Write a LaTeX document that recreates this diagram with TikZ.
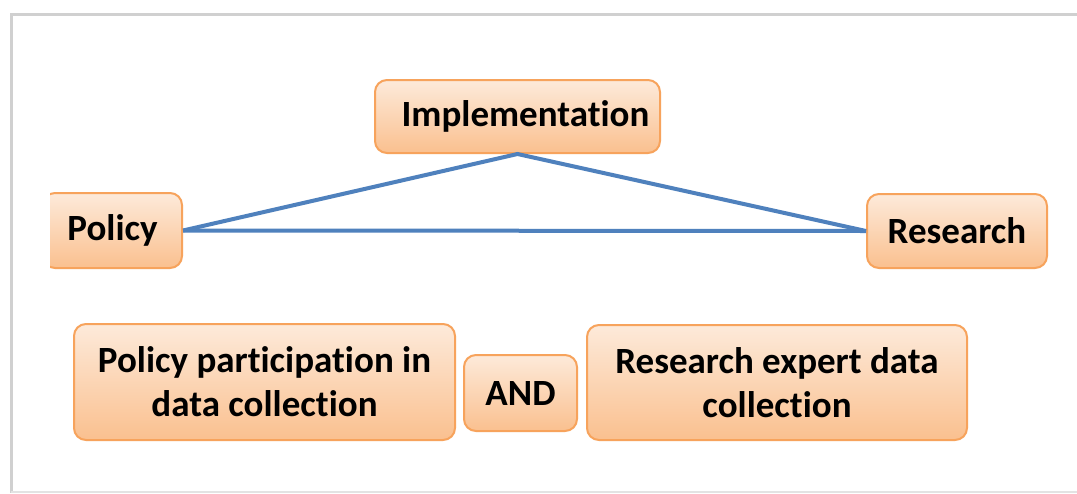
\documentclass[tikz,border=0pt]{standalone}
\usepackage{fontspec}
\setmainfont{Carlito}[Ligatures=NoCommon]
\usetikzlibrary{shadings}
\definecolor{boxtop}{HTML}{FDEADA}
\definecolor{boxbot}{HTML}{FAC08F}
\definecolor{boxline}{HTML}{F7A35C}
\definecolor{linkblue}{HTML}{4F81BD}
\definecolor{framegray}{HTML}{D0D0D0}
\tikzset{
  obox/.style={draw=boxline, line width=1pt, rounded corners=6pt,
    top color=boxtop, bottom color=boxbot, inner sep=0pt,
    align=center, font=\bfseries\fontsize{18.5}{22}\selectfont},
  link/.style={draw=linkblue, line width=2pt}
}
\begin{document}
\begin{tikzpicture}[x=0.5pt,y=-0.5pt]
\useasboundingbox (0,0) rectangle (1077,493);
\fill[white] (0,0) rectangle (1077,493);
% frame
\draw[framegray, line width=1.5pt] (1077,14) -- (11,14) -- (11,493);
\draw[framegray!60, line width=1pt] (11,492) -- (1077,492);
% nodes
\node[obox, minimum width=142.5pt, minimum height=36.5pt] (impl) at (517.5,116.5) {\hspace{8pt}Implementation};
\begin{scope}
\clip (50,150) rectangle (300,300);
\node[obox, minimum width=69.5pt, minimum height=37.5pt] (policy) at (112.5,230.5) {Policy};
\end{scope}
\node[obox, minimum width=90pt, minimum height=37pt] (research) at (957,231) {Research};
\node[obox, minimum width=190.5pt, minimum height=58pt] (ppd) at (264.5,382) {Policy participation in\\data collection};
\node[obox, minimum width=56.5pt, minimum height=38pt] (and) at (520.5,393) {AND};
\node[obox, minimum width=190pt, minimum height=57.5pt] (red) at (777,382.5) {Research expert data\\collection};
% links
\draw[link, line join=miter] (policy.east) -- (impl.south) -- (research.west);
\draw[link] (policy.east) -- (research.west);
\end{tikzpicture}
\end{document}
